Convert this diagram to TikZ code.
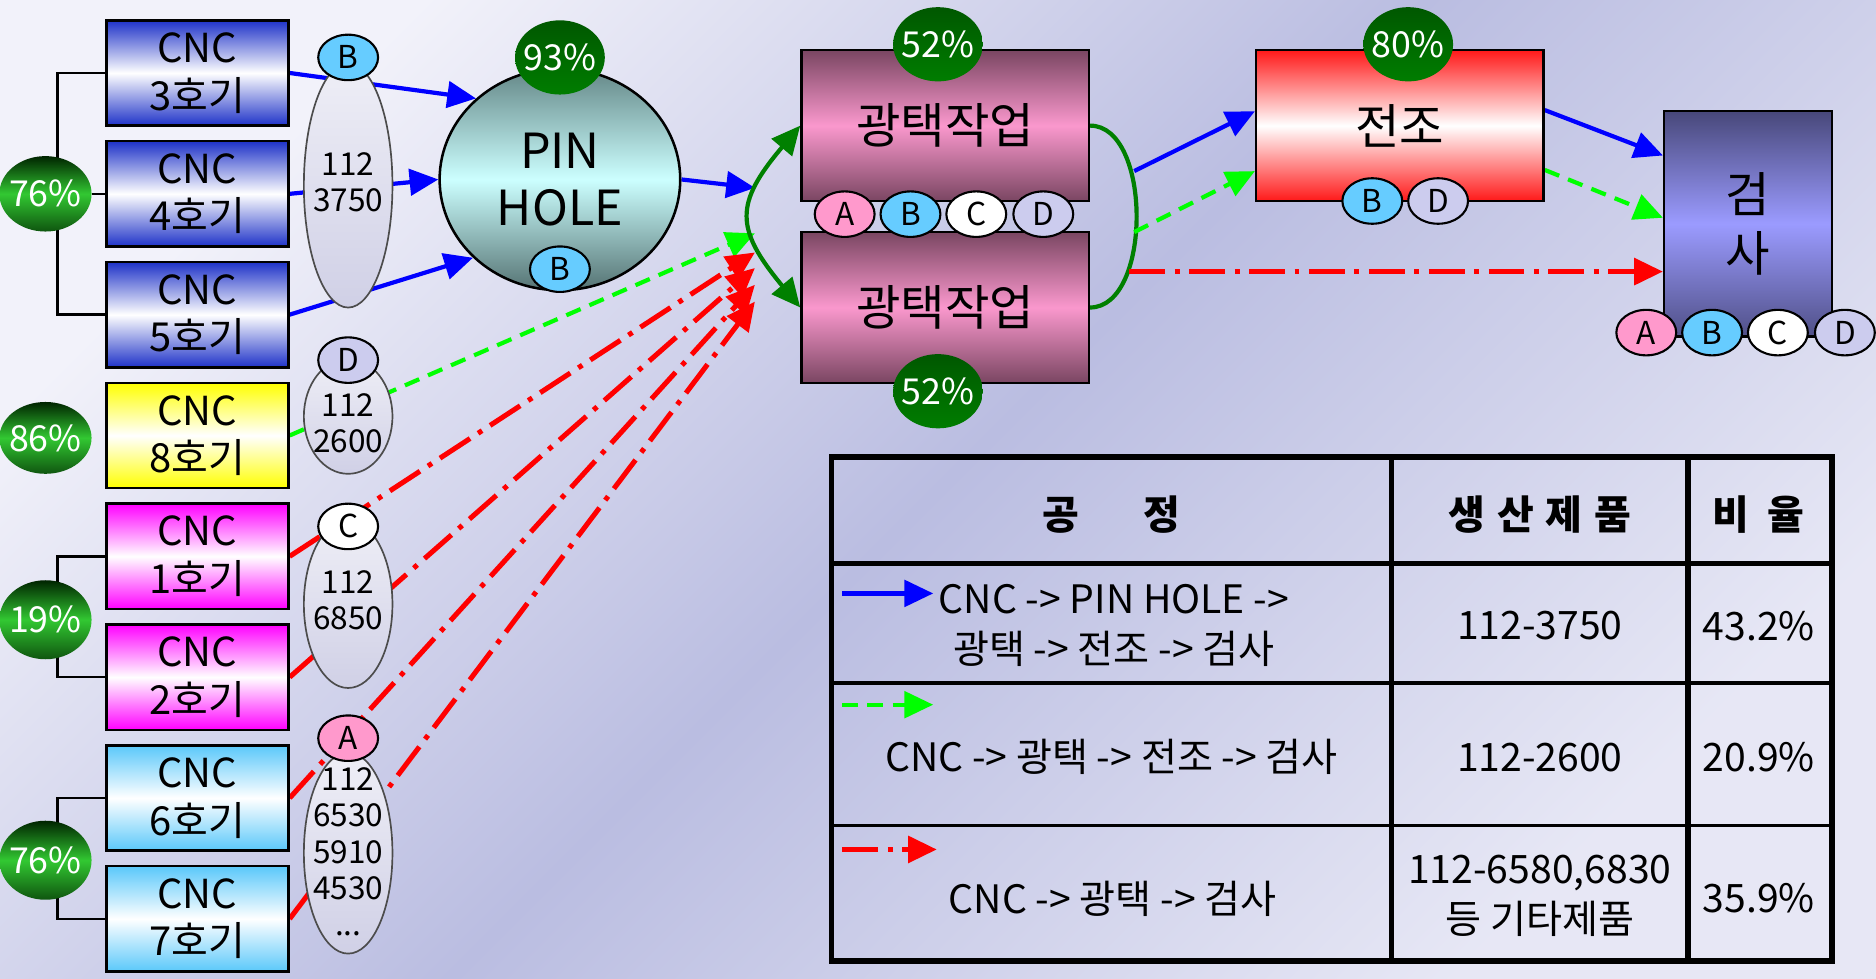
\documentclass[tikz,border=0pt]{standalone}
\usepackage{fontspec}
\setmainfont{Noto Sans CJK KR}
\usetikzlibrary{arrows.meta,shapes.geometric}
\pgfdeclarelayer{back}\pgfdeclarelayer{links}
\pgfsetlayers{back,links,main}
\definecolor{bglight}{RGB}{242,242,250}
\definecolor{bgmid}{RGB}{186,189,225}
\definecolor{cncblue}{RGB}{30,50,200}
\definecolor{cncyellow}{RGB}{255,255,0}
\definecolor{cncmagenta}{RGB}{255,0,255}
\definecolor{cnccyan}{RGB}{90,200,250}
\definecolor{pctdark}{RGB}{0,36,0}
\definecolor{pctlight}{RGB}{50,200,50}
\definecolor{pctgreen}{RGB}{0,125,0}
\definecolor{tagA}{RGB}{255,153,204}
\definecolor{tagB}{RGB}{102,204,255}
\definecolor{tagD}{RGB}{204,204,238}
\definecolor{lotgray}{RGB}{208,208,230}
\definecolor{pintop}{RGB}{100,135,135}
\definecolor{pinlight}{RGB}{204,255,255}
\definecolor{polishdark}{RGB}{122,70,98}
\definecolor{polishpink}{RGB}{250,152,205}
\definecolor{rollred}{RGB}{255,25,25}
\definecolor{inspdark}{RGB}{72,72,122}
\definecolor{insplight}{RGB}{155,155,255}
\definecolor{flowgreen}{RGB}{0,128,0}
\newcommand{\fsz}[2]{\fontsize{#1}{#2}\selectfont}
\def\tipA{Triangle[length=2.4mm,width=2.2mm]}

\begin{document}
\begin{tikzpicture}[x=0.01cm,y=-0.01cm,line cap=butt,
  cnc/.style={draw,line width=0.6pt,minimum width=1.52cm,minimum height=0.88cm,inner sep=0pt,align=center,
    font=\fsz{9.5}{11.3},top color=#1,bottom color=#1,middle color=white},
  pctl/.style={ellipse,minimum width=0.77cm,minimum height=#1,inner sep=-2pt,text=white,font=\fsz{8.5}{10},
    top color=pctdark,bottom color=pctdark!70!pctlight,middle color=pctlight},
  pctt/.style={ellipse,minimum width=0.75cm,minimum height=0.62cm,inner sep=-2pt,text=white,font=\fsz{8.5}{10},
    top color=pctgreen!70!black,bottom color=pctgreen},
  lot/.style={ellipse,draw=black!70,line width=0.4pt,minimum width=0.74cm,minimum height=#1,inner sep=0pt,
    top color=lotgray!35,bottom color=lotgray},
  lottext/.style={align=center,inner sep=0pt,font=\fsz{7.5}{8.6}},
  tag/.style={ellipse,draw,line width=0.5pt,minimum width=0.5cm,minimum height=0.38cm,inner sep=0pt,
    font=\fsz{7.5}{8},fill=#1},
  proc/.style={draw,line width=0.6pt,inner sep=0pt,align=center,font=\fsz{11.5}{14}},
  bluearr/.style={blue,line width=1pt,-{\tipA}},
  greenarr/.style={green,line width=1pt,dash pattern=on 1.3mm off 0.8mm,-{\tipA}},
  redarr/.style={red,line width=1.2pt,dash pattern=on 3mm off 0.8mm on 0.4mm off 0.8mm,-{\tipA}},
  gloop/.style={flowgreen,line width=1pt},
  bracket/.style={black,line width=0.6pt},
  tline/.style={black,line width=1.4pt},
  tthin/.style={black,line width=0.9pt},
  thead/.style={inner sep=0pt,font=\fsz{9.5}{11}\bfseries},
  tcell/.style={inner sep=0pt,align=center,font=\fsz{9.3}{11.9}}]
  \useasboundingbox (0,0) rectangle (1568,818);
  \begin{pgfonlayer}{back}
    \shade[shading=axis,top color=bglight,bottom color=bglight!80!bgmid,middle color=bgmid,shading angle=45]
      (0,0) rectangle (1568,818);
  \end{pgfonlayer}

  \foreach \n/\y/\c in {3/61/cncblue,4/162/cncblue,5/263/cncblue,8/364/cncyellow,
                        1/465/cncmagenta,2/566/cncmagenta,6/667/cnccyan,7/768/cnccyan}
    \node[cnc=\c] (cnc\n) at (165,\y) {CNC\\\n{}호기};

  \node[pctl=0.63cm] (pA) at (38,162) {76\%};
  \node[pctl=0.60cm] (pB) at (38,366) {86\%};
  \node[pctl=0.66cm] (pC) at (38,518) {19\%};
  \node[pctl=0.66cm] (pD) at (38,719) {76\%};

  \node[lot=2.04cm] (lotA) at (291,155) {};
  \node[lottext] (lotAt) at (291,152) {112\\3750};
  \node[lot=0.96cm] (lotB) at (291,348) {};
  \node[lottext] (lotBt) at (291,354) {112\\2600};
  \node[lot=1.40cm] (lotC) at (291,505) {};
  \node[lottext] (lotCt) at (291,502) {112\\6850};
  \node[lot=1.68cm] (lotD) at (291,713) {};
  \node[lottext] (lotDt) at (291,712) {112\\6530\\5910\\4530\\...};
  \node[tag=tagB] (lotAB) at (291,48) {B};
  \node[tag=tagD] (lotBD) at (291,301) {D};
  \node[tag=white] (lotCC) at (291,440) {C};
  \node[tag=tagA] (lotDA) at (291,617) {A};

  \node[ellipse,draw,line width=0.6pt,minimum width=2.01cm,minimum height=1.85cm,inner sep=0pt,align=center,
    font=\fsz{11.5}{13.4},top color=pintop,bottom color=pintop!85!black,middle color=pinlight] (pin) at (468,150) {PIN\\HOLE};
  \node[tag=tagB] (pinB) at (468,225) {B};
  \node[pctt] (pPin) at (468,48) {93\%};

  \node[proc,minimum width=2.4cm,minimum height=1.26cm,top color=polishdark,bottom color=polishdark,
    middle color=polishpink] (gw1) at (790,105) {광택작업};
  \node[proc,minimum width=2.4cm,minimum height=1.26cm,top color=polishdark,bottom color=polishdark,
    middle color=polishpink] (gw2) at (790,257) {광택작업};
  \node[pctt] (pGw1) at (784,37) {52\%};
  \node[pctt] (pGw2) at (784,327) {52\%};
  \foreach \t/\x/\c in {A/706/tagA,B/761/tagB,C/816/white,D/872/tagD}
    \node[tag=\c] (gt\t) at (\x,179) {\t};

  \node[proc,minimum width=2.4cm,minimum height=1.26cm,top color=rollred,bottom color=rollred,
    middle color=white] (roll) at (1170,105) {전조};
  \node[pctt] (pRoll) at (1177,37) {80\%};
  \node[tag=tagB] (rtB) at (1147,168) {B};
  \node[tag=tagD] (rtD) at (1202,168) {D};

  \node[proc,minimum width=1.4cm,minimum height=1.88cm,top color=inspdark,bottom color=inspdark!90!insplight,
    middle color=insplight] (insp) at (1461,187) {검\\사};
  \foreach \t/\x/\c in {A/1376/tagA,B/1431/tagB,C/1486/white,D/1542/tagD}
    \node[tag=\c] (it\t) at (\x,278) {\t};

  \foreach \m/\y in {B/157,G/195,R1/211,R2/224,R3/238,R4/252}
    \coordinate (m\m) at (631,\y);
  \coordinate (o1) at (948,143);
  \coordinate (o2) at (948,194);
  \coordinate (o3) at (944,227);

  \begin{pgfonlayer}{links}
    \draw[bracket] (cnc3.west) -| ([xshift=1mm]pA.center) |- (cnc5.west);
    \draw[bracket] (pA) -- (cnc4);
    \draw[bracket] (cnc1.west) -| ([xshift=1mm]pC.center) |- (cnc2.west);
    \draw[bracket] (cnc6.west) -| ([xshift=1mm]pD.center) |- (cnc7.west);

    \draw[bluearr] (cnc3.east) -- (pin.136);
    \draw[bluearr] (cnc4.east) -- (pin.west);
    \draw[bluearr] (cnc5.east) -- (pin.222);
    \draw[bluearr] (pin.east) -- (mB);
    \draw[greenarr] (cnc8.east) -- (mG);
    \foreach \n/\m in {1/R1,2/R2,6/R3,7/R4}
      \draw[redarr] (cnc\n.east) -- (m\m);

    \draw[gloop,{\tipA}-{\tipA}] (gw1.west) .. controls (614,170) and (614,191) .. (gw2.west);
    \draw[gloop] (gw1.east) .. controls (963,105) and (963,257) .. (gw2.east);

    \draw[bluearr] (o1) -- ([yshift=1.2mm]roll.west);
    \draw[greenarr] (o2) -- ([yshift=-3.8mm]roll.west);
    \draw[redarr] (o3) -- (o3 -| insp.west);
    \draw[bluearr] ([yshift=1.3mm]roll.east) -- ([yshift=5.7mm]insp.west);
    \draw[greenarr] ([yshift=-3.7mm]roll.east) -- ([yshift=0.5mm]insp.west);
  \end{pgfonlayer}

  \draw[tline] (695,382) rectangle (1531,803);
  \draw[tline] (695,471) -- (1531,471);
  \draw[tthin] (695,571) -- (1531,571);
  \draw[tthin] (695,690) -- (1531,690);
  \draw[tline] (1163,382) -- (1163,803);
  \draw[tline] (1411,382) -- (1411,803);

  \node[thead] (h1) at (929,430) {공\hspace{5.4mm}정};
  \node[thead] (h2) at (1287,430) {생\hspace{1mm}산\hspace{1mm}제\hspace{1mm}품};
  \node[thead] (h3) at (1470,430) {비\hspace{1.5mm}율};

  \node[tcell] (r1) at (931,523) {CNC -> PIN HOLE ->\\광택 -> 전조 -> 검사};
  \node[tcell] (r2) at (929,633) {CNC -> 광택 -> 전조 -> 검사};
  \node[tcell] (r3) at (930,751) {CNC -> 광택 -> 검사};
  \node[tcell] (q1) at (1287,523) {112-3750};
  \node[tcell] (q2) at (1287,633) {112-2600};
  \node[tcell] (q3) at (1287,749) {112-6580,6830\\등 기타제품};
  \node[tcell] (s1) at (1470,523) {43.2\%};
  \node[tcell] (s2) at (1470,633) {20.9\%};
  \node[tcell] (s3) at (1470,751) {35.9\%};

  \coordinate (k1) at (704,496); \coordinate (k1e) at (780,496);
  \coordinate (k2) at (704,589); \coordinate (k2e) at (780,589);
  \coordinate (k3) at (704,710); \coordinate (k3e) at (783,710);
  \draw[bluearr] (k1) -- (k1e);
  \draw[greenarr] (k2) -- (k2e);
  \draw[redarr] (k3) -- (k3e);
\end{tikzpicture}
\end{document}
